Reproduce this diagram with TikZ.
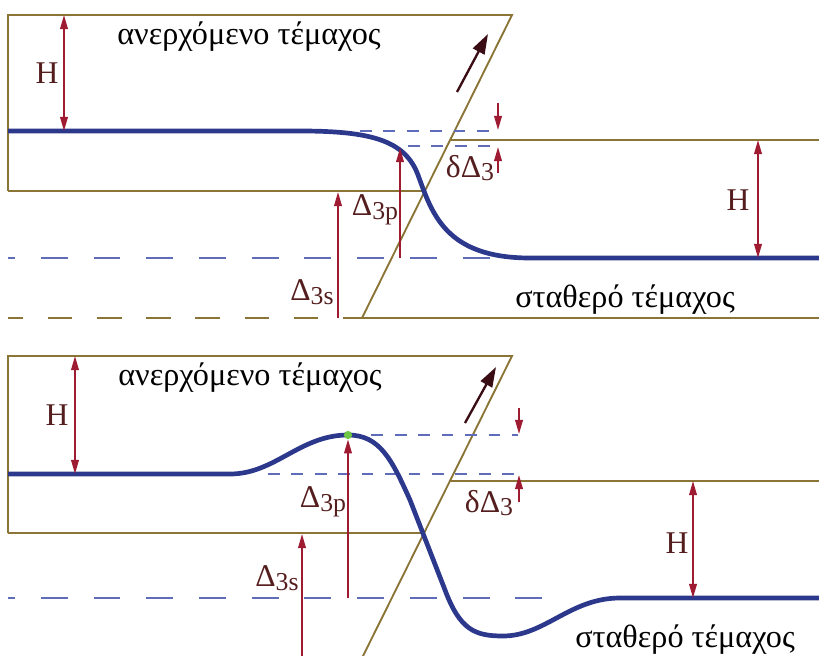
\documentclass[tikz,border=0pt]{standalone}
\usepackage{fontspec}
\setmainfont{Liberation Serif}
\usetikzlibrary{arrows.meta}
\definecolor{rockline}{RGB}{139,117,54}
\definecolor{dimred}{RGB}{158,27,50}
\definecolor{labcol}{RGB}{85,30,30}
\definecolor{curveblue}{RGB}{44,56,140}
\definecolor{dashblue}{RGB}{95,108,188}
\definecolor{motioncol}{RGB}{58,12,20}
\definecolor{peakgreen}{RGB}{110,200,70}
\newcommand{\sbs}[1]{\raisebox{-0.12em}{\fontsize{22}{22}\selectfont #1}}
\begin{document}
\begin{tikzpicture}[x=0.03cm,y=-0.03cm,
  rock/.style={draw=rockline,line width=1.6pt},
  rockdash/.style={rock,dash pattern=on 21pt off 21pt,dash phase=8pt},
  dimarrow/.style={draw=dimred,line width=1.5pt,-{Triangle[length=12pt,width=6.5pt]}},
  dimboth/.style={draw=dimred,line width=1.5pt,{Triangle[length=12pt,width=6.5pt]}-{Triangle[length=12pt,width=6.5pt]}},
  surf/.style={draw=curveblue,line width=4pt},
  refline/.style={draw=dashblue,line width=0.9pt,dash pattern=on 10pt off 10pt},
  levelline/.style={draw=dashblue,line width=0.9pt,dash pattern=on 23pt off 22pt,dash phase=17pt},
  motionarrow/.style={draw=motioncol,line width=2pt,-{Triangle[length=17pt,width=11pt]}},
  lab/.style={text=labcol,font=\fontsize{27}{30}\selectfont,inner sep=0pt},
  blocktext/.style={font=\fontsize{27.5}{32}\selectfont,inner sep=0pt}
]
\useasboundingbox (0,0) rectangle (819,656);

% ================= TOP PANEL =================
\coordinate (tTL) at (8,15);
\coordinate (tTR) at (512,15);
\coordinate (tBL) at (8,191);
\coordinate (tBR) at (425,191);
\coordinate (tFB) at (362,318);
\coordinate (tFR) at (451,140);
\coordinate (tRE) at (819,140);
\coordinate (tBE) at (819,318);
\coordinate (tBD) at (8,318);
% blocks
\draw[rock] (tBL) -- (tTL) -- (tTR) -- (tFB);
\draw[rock] (tBL) -- (tBR);
\draw[rock] (tFR) -- (tRE);
\draw[rock] (tFB) -- (tBE);
\draw[rockdash] (tBD) -- (tFB);
% reference levels
\draw[levelline] (8,258) -- (525,258);
\draw[refline] (360,131) -- (498,131);
\draw[refline] (408,146) -- (498,146);
% surface
\draw[surf] (8,131) -- (300,131) .. controls (370,131) and (405,140) .. (418,175)
  .. controls (432,213) and (445,258) .. (530,258) -- (819,258);
% dimension arrows
\coordinate (tH1a) at (64,15); \coordinate (tH1b) at (64,131);
\draw[dimboth] (tH1a) -- (tH1b);
\node[lab] (tHlab) at (47,73) {H};
\coordinate (tSa) at (338,318); \coordinate (tSb) at (338,192);
\draw[dimarrow] (tSa) -- (tSb);
\node[lab] (tSlab) at (312,292) {Δ\sbs{3s}};
\coordinate (tPa) at (400,258); \coordinate (tPb) at (400,148);
\draw[dimarrow] (tPa) -- (tPb);
\node[lab] (tPlab) at (375,210) {Δ\sbs{3p}};
\coordinate (tDa) at (498,103); \coordinate (tDb) at (498,130);
\draw[dimarrow] (tDa) -- (tDb);
\coordinate (tDc) at (498,173); \coordinate (tDd) at (498,147);
\draw[dimarrow] (tDc) -- (tDd);
\node[lab] (tDlab) at (470,168) {δΔ\sbs{3}};
\coordinate (tH2a) at (758,140); \coordinate (tH2b) at (758,258);
\draw[dimboth] (tH2a) -- (tH2b);
\node[lab] (tH2lab) at (738,200) {H};
% motion
\coordinate (tMa) at (457,92); \coordinate (tMb) at (488,34);
\draw[motionarrow] (tMa) -- (tMb);
% texts
\node[blocktext] (tUp) at (249,37) {ανερχόμενο τέμαχος};
\node[blocktext] (tFix) at (625,300) {σταθερό τέμαχος};

% ================= BOTTOM PANEL =================
\coordinate (bTL) at (8,356);
\coordinate (bTR) at (512,356);
\coordinate (bBL) at (8,533);
\coordinate (bBR) at (424,533);
\coordinate (bFB) at (361,660);
\coordinate (bFR) at (450,481);
\coordinate (bRE) at (819,481);
\draw[rock] (bBL) -- (bTL) -- (bTR) -- (bFB);
\draw[rock] (bBL) -- (bBR);
\draw[rock] (bFR) -- (bRE);
% reference levels
\draw[levelline] (8,598) -- (565,598);
\draw[refline] (348,435) -- (518,435);
\draw[refline] (268,474) -- (518,474);
% surface
\draw[surf] (8,474) -- (230,474) .. controls (275,474) and (300,435) .. (348,435)
  .. controls (380,435) and (392,460) .. (410,500) -- (445,590)
  .. controls (460,630) and (475,636) .. (503,636)
  .. controls (545,636) and (570,598) .. (620,598) -- (819,598);
\node[circle,fill=peakgreen,inner sep=0pt,minimum size=7pt] (bPeak) at (348,435) {};
% dimension arrows
\coordinate (bH1a) at (75,356); \coordinate (bH1b) at (75,474);
\draw[dimboth] (bH1a) -- (bH1b);
\node[lab] (bHlab) at (57,415) {H};
\coordinate (bSa) at (302,660); \coordinate (bSb) at (302,534);
\draw[dimarrow] (bSa) -- (bSb);
\node[lab] (bSlab) at (277,578) {Δ\sbs{3s}};
\coordinate (bPa) at (348,598);
\draw[dimarrow] (bPa) -- (bPeak.south);
\node[lab] (bPlab) at (323,502) {Δ\sbs{3p}};
\coordinate (bDa) at (519,408); \coordinate (bDb) at (519,434);
\draw[dimarrow] (bDa) -- (bDb);
\coordinate (bDc) at (519,502); \coordinate (bDd) at (519,475);
\draw[dimarrow] (bDc) -- (bDd);
\node[lab] (bDlab) at (489,503) {δΔ\sbs{3}};
\coordinate (bH2a) at (693,481); \coordinate (bH2b) at (693,598);
\draw[dimboth] (bH2a) -- (bH2b);
\node[lab] (bH2lab) at (677,543) {H};
% motion
\coordinate (bMa) at (465,423); \coordinate (bMb) at (496,367);
\draw[motionarrow] (bMa) -- (bMb);
% texts
\node[blocktext] (bUp) at (250,378) {ανερχόμενο τέμαχος};
\node[blocktext] (bFix) at (685,640) {σταθερό τέμαχος};
\end{tikzpicture}
\end{document}
